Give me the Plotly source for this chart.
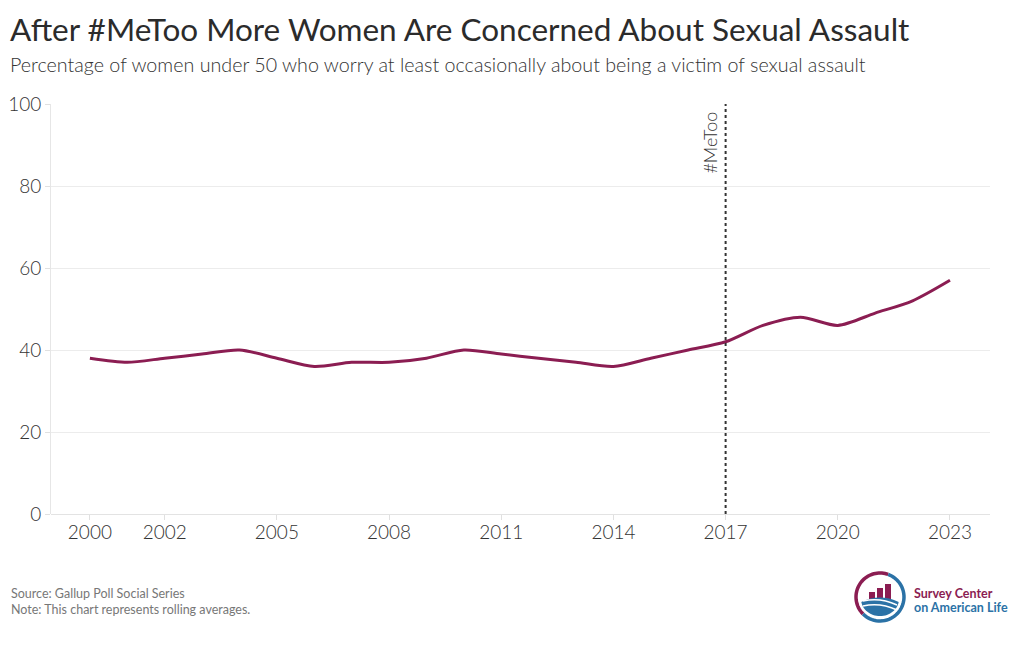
import math
import plotly.graph_objects as go

# ---- data ----
years = list(range(2000, 2024))
pct_worry = [38, 37, 38, 39, 40, 38, 36, 37, 37, 38, 40, 39,
             38, 37, 36, 38, 40, 42, 46, 48, 46, 49, 52, 57]
tick_years = [2000, 2002, 2005, 2008, 2011, 2014, 2017, 2020, 2023]
y_ticks = [0, 20, 40, 60, 80, 100]
metoo_year = 2017

MAROON = "#8b1d52"
BLUE = "#2b72a6"
FONT = "Lato"

W, H = 1020, 650
OFF = 8  # default page body margin
L, R, T, B = 51, 990, 104, 514  # plot area in page pixels


def PX(px):
    return (px - L) / (R - L)


def PY(py):
    return (B - py) / (B - T)


fig = go.Figure()
fig.add_trace(go.Scatter(
    x=years, y=pct_worry, mode="lines",
    line=dict(color=MAROON, width=3, shape="spline", smoothing=0.8),
    hoverinfo="x+y", showlegend=False,
))

shapes = [dict(type="line", xref="x", yref="paper", x0=metoo_year, x1=metoo_year,
               y0=0, y1=1, line=dict(color="#333333", width=2, dash="dot"))]

# ---- logo (decorative) ----
cx, cy, r = 880, 597, 24


def arc_path(a0, a1, rad, n=40):
    pts = []
    for i in range(n + 1):
        a = math.radians(a0 + (a1 - a0) * i / n)
        pts.append((PX(cx + rad * math.cos(a)), PY(cy - rad * math.sin(a))))
    return "M " + " L ".join(f"{x:.5f},{y:.5f}" for x, y in pts)


shapes.append(dict(type="path", xref="paper", yref="paper", path=arc_path(70, 225, r),
                   line=dict(color=MAROON, width=3.5)))
shapes.append(dict(type="path", xref="paper", yref="paper", path=arc_path(225, 430, r),
                   line=dict(color=BLUE, width=3.5)))
for x0, x1, top in [(869, 875, 592), (877, 883, 588), (885, 891, 584)]:
    shapes.append(dict(type="rect", xref="paper", yref="paper",
                       x0=PX(x0), x1=PX(x1), y0=PY(602), y1=PY(top),
                       fillcolor=MAROON, line=dict(width=0)))
hill = []
for i in range(31):
    a = math.radians(190 + 160 * i / 30)
    hill.append((PX(cx + 19 * math.cos(a)), PY(cy + 2 - 19 * math.sin(a) * 0.9)))
hill_path = "M " + " L ".join(f"{x:.5f},{y:.5f}" for x, y in hill)
hill_path += f" Q {PX(cx):.5f},{PY(cy - 4):.5f} {hill[0][0]:.5f},{hill[0][1]:.5f} Z"
shapes.append(dict(type="path", xref="paper", yref="paper", path=hill_path,
                   fillcolor=BLUE, line=dict(width=0)))
for dy in (6, 11):
    shapes.append(dict(type="path", xref="paper", yref="paper",
                       path=f"M {PX(cx-17):.5f},{PY(cy+dy-2):.5f} Q {PX(cx):.5f},{PY(cy+dy-6):.5f} {PX(cx+17):.5f},{PY(cy+dy+2):.5f}",
                       line=dict(color="white", width=1.5)))

annotations = [
    dict(text="After #MeToo More Women Are Concerned About Sexual Assault",
         xref="paper", yref="paper", x=PX(8), y=PY(29), xanchor="left", yanchor="middle",
         showarrow=False, font=dict(family=FONT, size=31.5, color="#2b2b2b")),
    dict(text="Percentage of women under 50 who worry at least occasionally about being a victim of sexual assault",
         xref="paper", yref="paper", x=PX(8), y=PY(65), xanchor="left", yanchor="middle",
         showarrow=False, font=dict(family=FONT, size=19.7, color="#333333", weight=300)),
    dict(text="#MeToo", xref="x", yref="paper", x=metoo_year, xshift=-16, y=PY(110),
         xanchor="center", yanchor="top", textangle=-90, showarrow=False,
         font=dict(family=FONT, size=18, color="#333333", weight=300)),
    dict(text="Source: Gallup Poll Social Series<br>Note: This chart represents rolling averages.",
         xref="paper", yref="paper", x=PX(9), y=PY(584), xanchor="left", yanchor="top",
         align="left", showarrow=False,
         font=dict(family=FONT, size=12.5, color="#777777")),
    dict(text="<b>Survey Center</b>", xref="paper", yref="paper", x=PX(912), y=PY(593),
         xanchor="left", yanchor="middle", showarrow=False,
         font=dict(family=FONT, size=12.5, color=MAROON)),
    dict(text="<b>on American Life</b>", xref="paper", yref="paper", x=PX(912), y=PY(607),
         xanchor="left", yanchor="middle", showarrow=False,
         font=dict(family=FONT, size=12.5, color=BLUE)),
]

fig.update_layout(
    width=W - OFF, height=H - OFF,
    margin=dict(l=L - OFF, r=W - R, t=T - OFF, b=H - B, pad=0),
    paper_bgcolor="white", plot_bgcolor="white",
    font=dict(family=FONT, color="#333333"),
    shapes=shapes, annotations=annotations,
    xaxis=dict(range=[1998.96, 2024.07], tickmode="array", tickvals=tick_years,
               ticktext=[str(t) for t in tick_years], showgrid=False, zeroline=False,
               showline=False, ticks="outside", ticklen=5, tickcolor="#e0e0e0",
               automargin=False, ticklabelstandoff=-4,
               tickfont=dict(family=FONT, size=19, color="#333333", weight=300)),
    yaxis=dict(range=[0, 100], tickvals=y_ticks, showgrid=True, gridcolor="#ececec",
               zeroline=True, zerolinecolor="#e3e3e3", zerolinewidth=1,
               showline=True, linecolor="#e6e6e6", ticks="outside", ticklen=5,
               tickcolor="#e0e0e0", automargin=False,
               tickfont=dict(family=FONT, size=19, color="#333333", weight=300)),
)

fig.write_html("out.html")
